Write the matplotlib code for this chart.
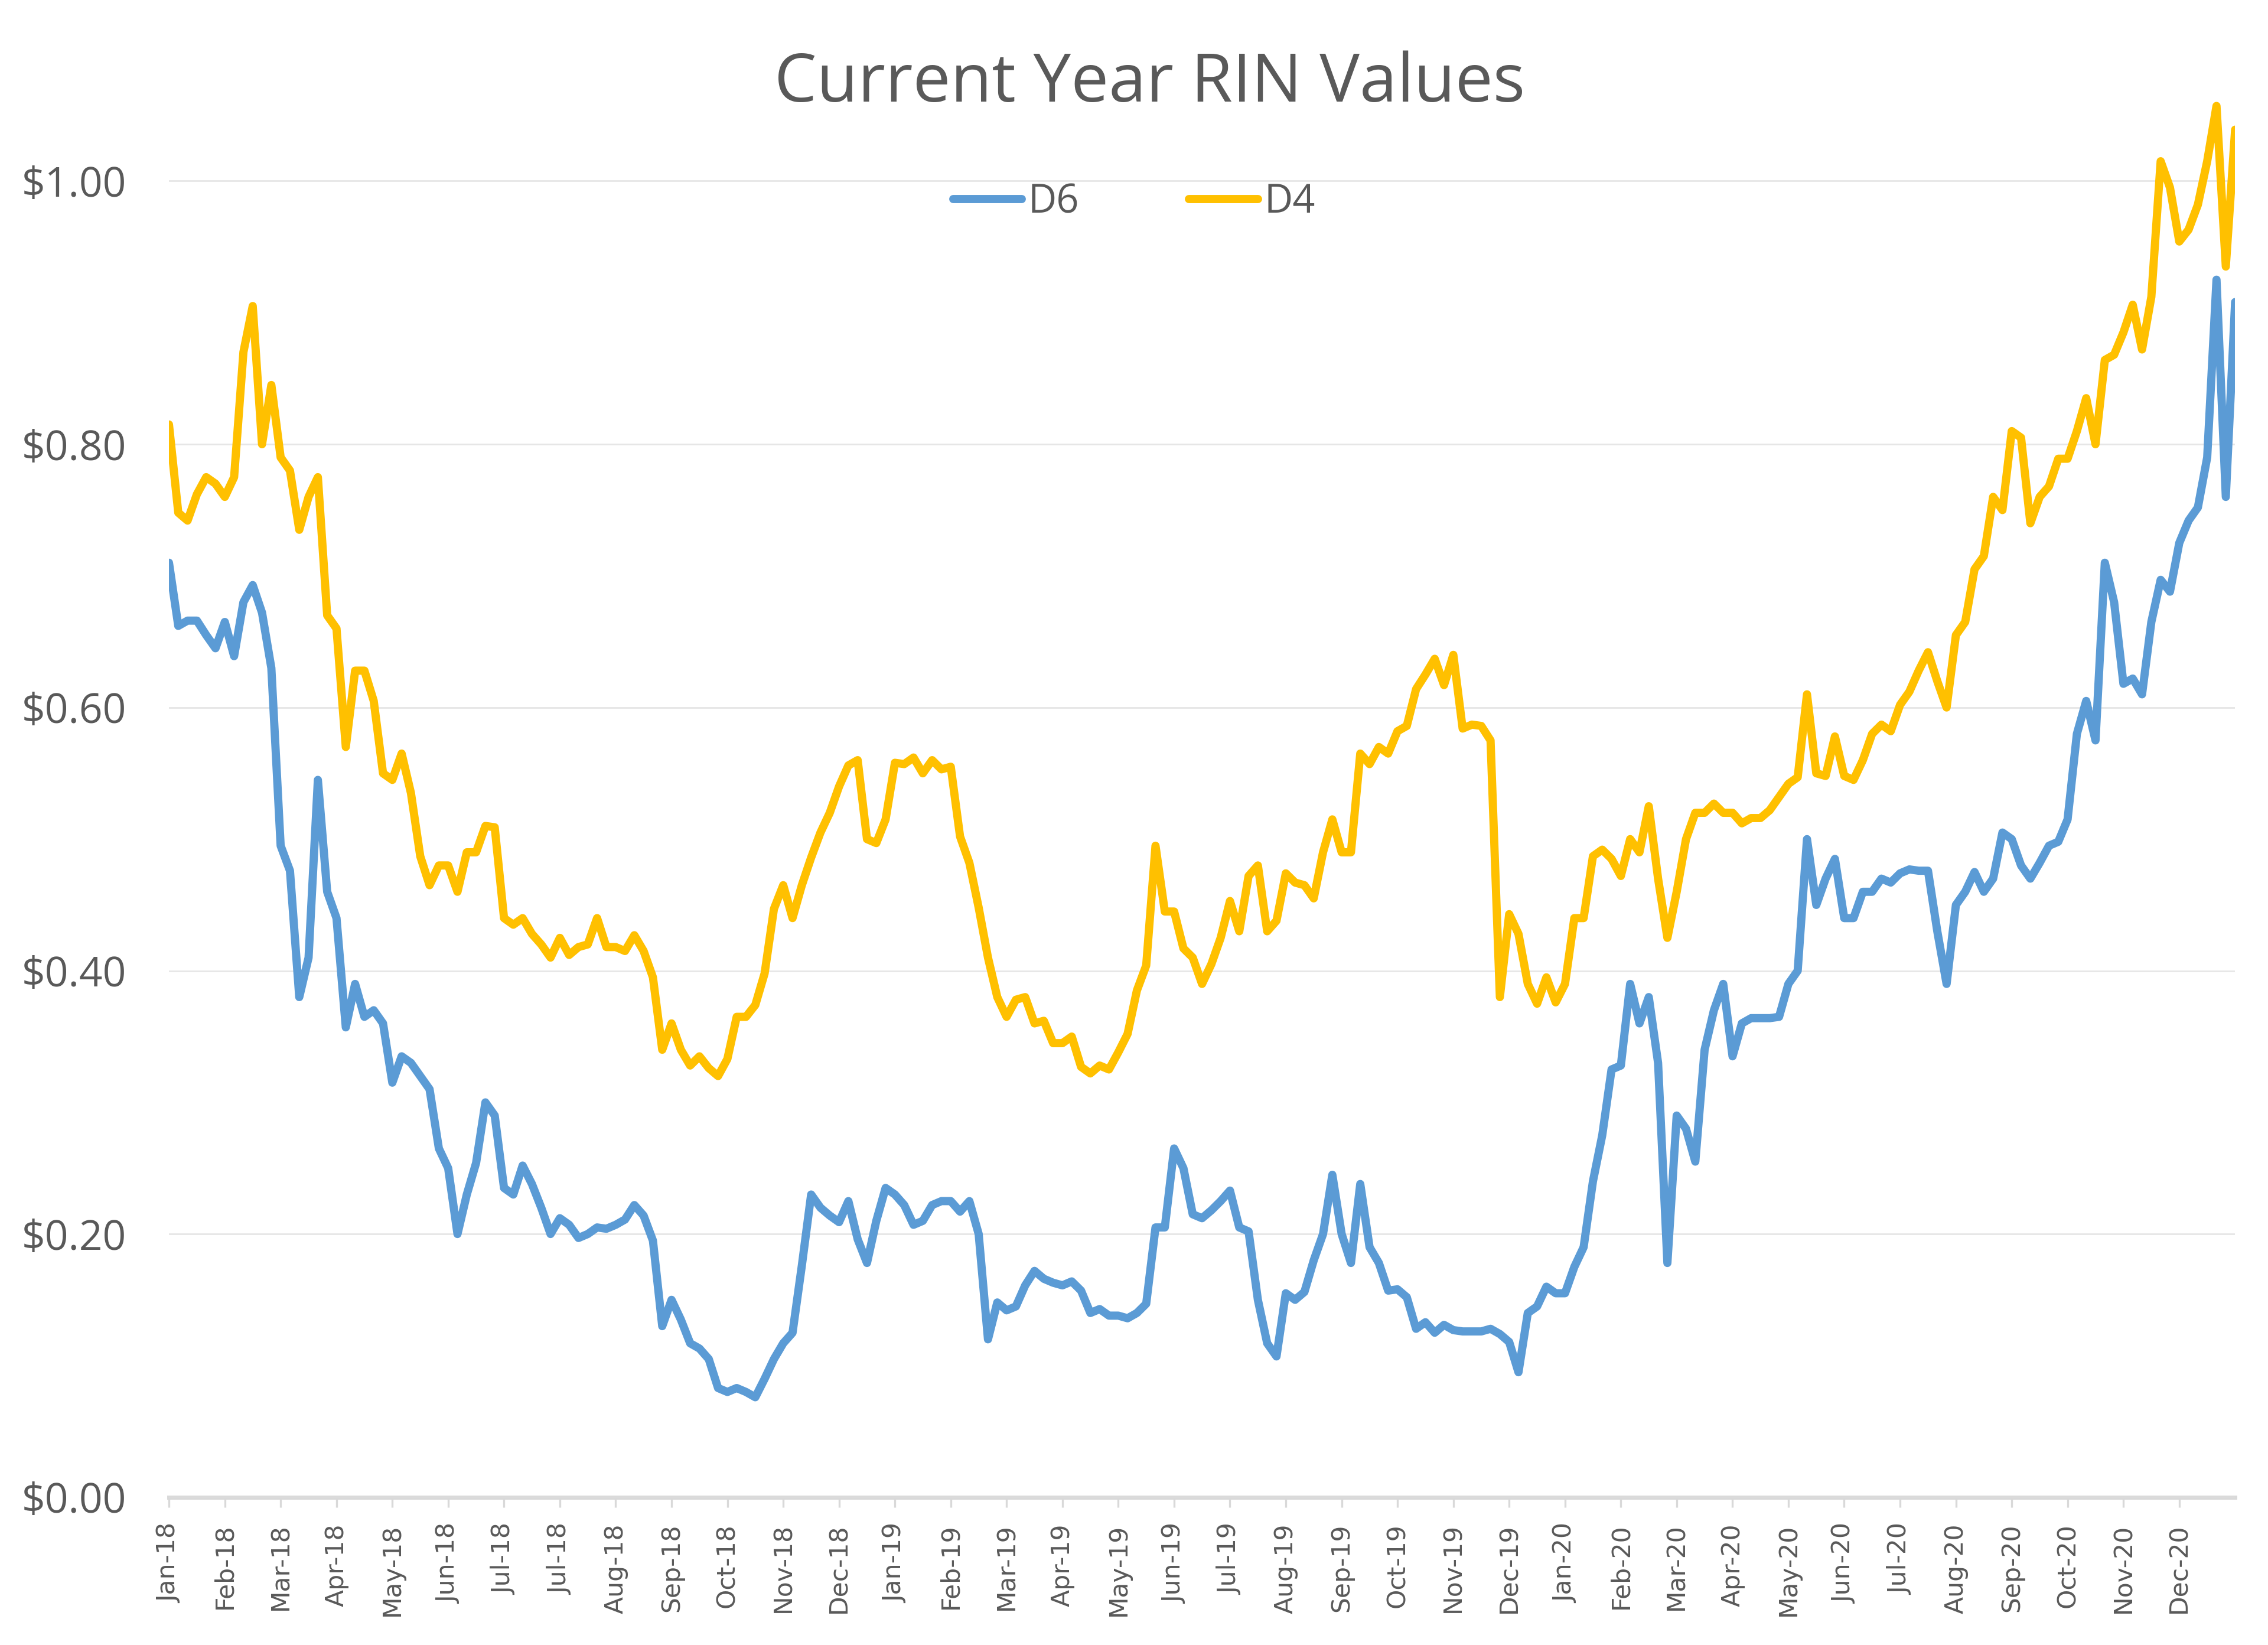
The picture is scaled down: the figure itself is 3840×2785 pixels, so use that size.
import matplotlib
matplotlib.use('Agg')
import matplotlib.pyplot as plt
import numpy as np

plt.rcParams['font.family'] = ['Open Sans', 'DejaVu Sans']

# Tick labels (one every 6 samples, as on the original category axis)
month_labels = ['Jan-18', 'Feb-18', 'Mar-18', 'Apr-18', 'May-18', 'Jun-18', 'Jul-18', 'Jul-18',
                'Aug-18', 'Sep-18', 'Oct-18', 'Nov-18', 'Dec-18',
                'Jan-19', 'Feb-19', 'Mar-19', 'Apr-19', 'May-19', 'Jun-19', 'Jul-19', 'Aug-19',
                'Sep-19', 'Oct-19', 'Nov-19', 'Dec-19',
                'Jan-20', 'Feb-20', 'Mar-20', 'Apr-20', 'May-20', 'Jun-20', 'Jul-20', 'Aug-20',
                'Sep-20', 'Oct-20', 'Nov-20', 'Dec-20']
points_per_label = 6

# D6 RIN values ($), sampled ~every 3-4 trading days
d6 = [0.71, 0.662, 0.666, 0.666, 0.655, 0.645, 0.665, 0.639, 0.68, 0.693,
      0.672, 0.63, 0.495, 0.476, 0.38, 0.41, 0.545, 0.46, 0.44, 0.357,
      0.39, 0.365, 0.37, 0.36, 0.315, 0.335, 0.33, 0.32, 0.31, 0.265,
      0.25, 0.2, 0.23, 0.254, 0.30, 0.29, 0.235, 0.23, 0.252, 0.238,
      0.22, 0.2, 0.212, 0.207, 0.197, 0.2, 0.205, 0.204, 0.207, 0.211,
      0.222, 0.214, 0.195, 0.13, 0.15, 0.135, 0.117, 0.113, 0.105, 0.083,
      0.08, 0.083, 0.08, 0.076, 0.09, 0.105, 0.117, 0.125, 0.176, 0.23,
      0.22, 0.214, 0.209, 0.225, 0.196, 0.178, 0.21, 0.235, 0.23, 0.222,
      0.207, 0.21, 0.222, 0.225, 0.225, 0.217, 0.225, 0.2, 0.12, 0.148,
      0.142, 0.145, 0.161, 0.172, 0.166, 0.163, 0.161, 0.164, 0.157, 0.14,
      0.143, 0.138, 0.138, 0.136, 0.14, 0.147, 0.205, 0.205, 0.265, 0.25,
      0.215, 0.212, 0.218, 0.225, 0.233, 0.205, 0.202, 0.15, 0.117, 0.107,
      0.155, 0.15, 0.156, 0.18, 0.2, 0.245, 0.2, 0.178, 0.238, 0.19,
      0.178, 0.157, 0.158, 0.152, 0.128, 0.133, 0.125, 0.131, 0.127, 0.126,
      0.126, 0.126, 0.128, 0.124, 0.118, 0.095, 0.14, 0.145, 0.16, 0.155,
      0.155, 0.175, 0.19, 0.24, 0.275, 0.325, 0.328, 0.39, 0.36, 0.38,
      0.33, 0.178, 0.29, 0.28, 0.255, 0.34, 0.37, 0.39, 0.335, 0.36,
      0.364, 0.364, 0.364, 0.365, 0.39, 0.4, 0.50, 0.45, 0.47, 0.485,
      0.44, 0.44, 0.46, 0.46, 0.47, 0.467, 0.474, 0.477, 0.476, 0.476,
      0.43, 0.39, 0.45, 0.46, 0.475, 0.46, 0.47, 0.505, 0.5, 0.48,
      0.47, 0.482, 0.495, 0.498, 0.515, 0.58, 0.605, 0.575, 0.71, 0.68,
      0.618, 0.622, 0.61, 0.665, 0.697, 0.688, 0.725, 0.742, 0.752, 0.79,
      0.925, 0.76, 0.908]

# D4 RIN values ($)
d4 = [0.815, 0.748, 0.742, 0.762, 0.775, 0.77, 0.76, 0.775, 0.87, 0.905,
      0.80, 0.845, 0.79, 0.78, 0.735, 0.76, 0.775, 0.67, 0.66, 0.57,
      0.628, 0.628, 0.605, 0.55, 0.545, 0.565, 0.535, 0.487, 0.465, 0.48,
      0.48, 0.46, 0.49, 0.49, 0.51, 0.509, 0.44, 0.435, 0.44, 0.428,
      0.42, 0.41, 0.425, 0.412, 0.418, 0.42, 0.44, 0.418, 0.418, 0.415,
      0.427, 0.415, 0.395, 0.34, 0.36, 0.34, 0.328, 0.335, 0.326, 0.32,
      0.333, 0.365, 0.365, 0.374, 0.398, 0.447, 0.465, 0.44, 0.465, 0.486,
      0.505, 0.52, 0.54, 0.556, 0.56, 0.5, 0.497, 0.515, 0.558, 0.557,
      0.562, 0.55, 0.56, 0.553, 0.555, 0.502, 0.482, 0.448, 0.41, 0.38,
      0.365, 0.378, 0.38, 0.36, 0.362, 0.345, 0.345, 0.35, 0.327, 0.322,
      0.328, 0.325, 0.338, 0.352, 0.385, 0.404, 0.495, 0.445, 0.445, 0.417,
      0.41, 0.39, 0.405, 0.425, 0.453, 0.43, 0.472, 0.48, 0.43, 0.438,
      0.474, 0.467, 0.465, 0.455, 0.49, 0.515, 0.49, 0.49, 0.565, 0.557,
      0.57, 0.565, 0.582, 0.586, 0.614, 0.625, 0.637, 0.617, 0.64, 0.584,
      0.587, 0.586, 0.575, 0.38, 0.443, 0.428, 0.39, 0.375, 0.395, 0.376,
      0.39, 0.44, 0.44, 0.487, 0.492, 0.485, 0.472, 0.5, 0.49, 0.525,
      0.47, 0.425, 0.46, 0.5, 0.52, 0.52, 0.527, 0.52, 0.52, 0.512,
      0.516, 0.516, 0.522, 0.532, 0.542, 0.547, 0.61, 0.55, 0.548, 0.578,
      0.548, 0.545, 0.56, 0.58, 0.587, 0.582, 0.602, 0.612, 0.628, 0.642,
      0.62, 0.6, 0.655, 0.665, 0.705, 0.715, 0.76, 0.75, 0.81, 0.805,
      0.74, 0.76, 0.768, 0.789, 0.789, 0.81, 0.835, 0.8, 0.864, 0.868,
      0.885, 0.906, 0.872, 0.912, 1.015, 0.995, 0.954, 0.963, 0.982, 1.015,
      1.057, 0.935, 1.039]

y_ticks = [0.0, 0.2, 0.4, 0.6, 0.8, 1.0]

TEXT = '#595959'
GRID = '#D9D9D9'
BLUE = '#5B9BD5'
GOLD = '#FFC000'

fig = plt.figure(figsize=(19.2, 13.925), dpi=200)
ax = fig.add_axes([0.0745, 0.0898, 0.911, 0.8802])

x = np.arange(len(d6))
ax.plot(x, d6, color=BLUE, lw=5, label='D6', solid_joinstyle='round', solid_capstyle='round')
ax.plot(x, d4, color=GOLD, lw=5, label='D4', solid_joinstyle='round', solid_capstyle='round')

ax.set_xlim(0, len(d6) - 1)
ax.set_ylim(0, 1.1)
ax.set_yticks(y_ticks)
ax.set_yticklabels([f'${v:.2f}' for v in y_ticks])
ax.set_xticks(np.arange(len(month_labels)) * points_per_label)
ax.set_xticklabels(month_labels, rotation=90, family='DejaVu Sans')

for s in ['top', 'right', 'left']:
    ax.spines[s].set_visible(False)
ax.spines['bottom'].set_color(GRID)
ax.spines['bottom'].set_linewidth(2.5)
ax.spines['bottom'].set_zorder(0)

ax.yaxis.grid(True, color='#E6E6E6', lw=1)
ax.set_axisbelow(True)
ax.tick_params(axis='y', length=0, labelsize=25, labelcolor=TEXT, pad=26)
ax.tick_params(axis='x', length=6, width=1.2, color=GRID, labelsize=15.3, labelcolor=TEXT, pad=10)

fig.text(0.507, 0.949, 'Current Year RIN Values', ha='center', va='center',
         fontsize=41, color=TEXT)

leg = fig.legend(loc='center', bbox_to_anchor=(0.5, 0.877), ncol=2, frameon=False,
                 fontsize=24, handlelength=1.75, handletextpad=0.15, columnspacing=2.8)
for t in leg.get_texts():
    t.set_color(TEXT)

fig.savefig('out.png', dpi=200, facecolor='white')
